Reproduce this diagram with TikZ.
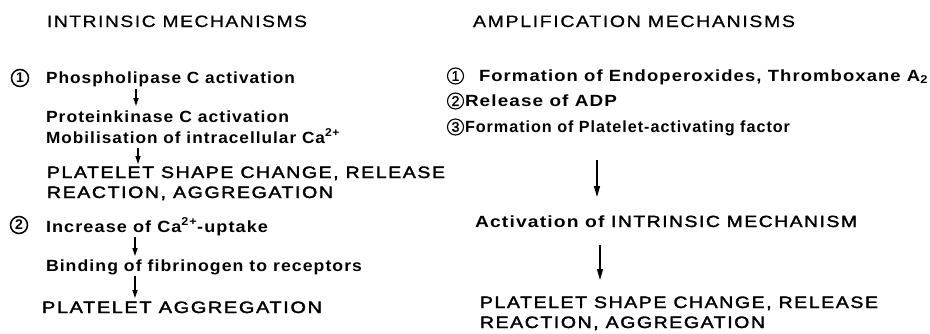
\documentclass[tikz,border=0pt]{standalone}
\usepackage{fontspec}
\usepackage{graphicx}
\setmainfont{Liberation Sans}
\newfontfamily\widefont{Liberation Sans}[LetterSpace=8,FakeBold=0.6]
\newfontfamily\semifont{Liberation Sans Bold}[LetterSpace=6]
\newfontfamily\capfont{Liberation Sans}[LetterSpace=8,FakeBold=1.8]
\usetikzlibrary{arrows.meta,calc}

% set a text line at its natural height, stretched horizontally to a given width
\newsavebox\fitbox
\newlength\fitlen
\newcommand\fitto[2]{%
  \sbox\fitbox{#2}%
  \setlength\fitlen{\wd\fitbox}%
  \pgfmathsetmacro\fitscale{#1/\fitlen}%
  \scalebox{\fitscale}[1]{\usebox\fitbox}}

\begin{document}
\begin{tikzpicture}[x=1pt,y=-1pt,
  every node/.style={inner sep=0pt,outer sep=0pt},
  hdr/.style={font=\widefont\fontsize{16.5}{18}\selectfont,anchor=base west},
  txt/.style={font=\semifont\fontsize{16.2}{18}\selectfont,anchor=base west},
  capline/.style={font=\capfont\fontsize{16.5}{18}\selectfont,anchor=base west},
  numL/.style={circle,draw,line width=1.5pt,minimum size=17pt,
    font=\semifont\fontsize{14}{14}\selectfont},
  numR/.style={circle,draw,line width=1.1pt,minimum size=16pt,
    font=\capfont\fontsize{14}{14}\selectfont},
  flow/.style={-{Triangle[length=8pt,width=5pt]},line width=1.3pt},
  flowlong/.style={-{Triangle[length=11pt,width=6pt]},line width=1.4pt}]

\useasboundingbox (0,0) rectangle (930,333);

% ---- intrinsic mechanisms ----
\node[hdr] (h1) at (47,27) {\fitto{260}{INTRINSIC MECHANISMS}};

\node[numL] (c1) at (20,78) {1};
\node[txt] (l1) at (46,83) {\fitto{249}{Phospholipase C activation}};
\node[txt] (l2) at (46,122) {\fitto{243}{Proteinkinase C activation}};
\node[txt] (l3) at (46,143) {\fitto{294}{Mobilisation of intracellular Ca\textsuperscript{2+}}};
\node[capline] (l4) at (47,178) {\fitto{398}{PLATELET SHAPE CHANGE, RELEASE}};
\node[capline] (l5) at (47,198) {\fitto{286}{REACTION, AGGREGATION}};

\node[numL] (c2) at (19,225) {2};
\node[txt] (l6) at (46,232) {\fitto{222}{Increase of Ca\textsuperscript{2+}-uptake}};
\node[txt] (l7) at (46,271) {\fitto{316}{Binding of fibrinogen to receptors}};
\node[capline] (l8) at (42,313) {\fitto{280}{PLATELET AGGREGATION}};

\draw[flow] ($(l1.base west)+(90,6)$) -- ($(l2.base west)+(90,-16)$);
\draw[flow] ($(l3.base west)+(92,5)$) -- ($(l4.base west)+(91,-14)$);
\draw[flow] ($(l6.base west)+(89,5)$) -- ($(l7.base west)+(89,-15)$);
\draw[flow] ($(l7.base west)+(89,5)$) -- ($(l8.base west)+(93,-15)$);

% ---- amplification mechanisms ----
\node[hdr] (h2) at (473,27) {\fitto{322}{AMPLIFICATION MECHANISMS}};

\node[numR] (r1c) at (455.5,76) {1};
\node[txt] (r1) at (479,81) {\fitto{449}{Formation of Endoperoxides, Thromboxane A\textsubscript{2}}};
\node[numR] (r2c) at (455.5,101) {2};
\node[txt] (r2) at (465,106) {\fitto{152}{Release of ADP}};
\node[numR] (r3c) at (455.5,127) {3};
\node[txt] (r3) at (465,132) {\fitto{325}{Formation of Platelet-activating factor}};

\node[txt] (r4) at (475,227) {\fitto{382}{Activation of {\capfont INTRINSIC MECHANISM}}};
\node[capline] (r5) at (480,308) {\fitto{398}{PLATELET SHAPE CHANGE, RELEASE}};
\node[capline] (r6) at (480,328) {\fitto{285}{REACTION, AGGREGATION}};

\draw[flowlong] ($(r3.base west)+(132,28)$) -- ($(r4.base west)+(122,-30)$);
\draw[flowlong] ($(r4.base west)+(125,18)$) -- ($(r5.base west)+(120,-28)$);
\end{tikzpicture}
\end{document}
